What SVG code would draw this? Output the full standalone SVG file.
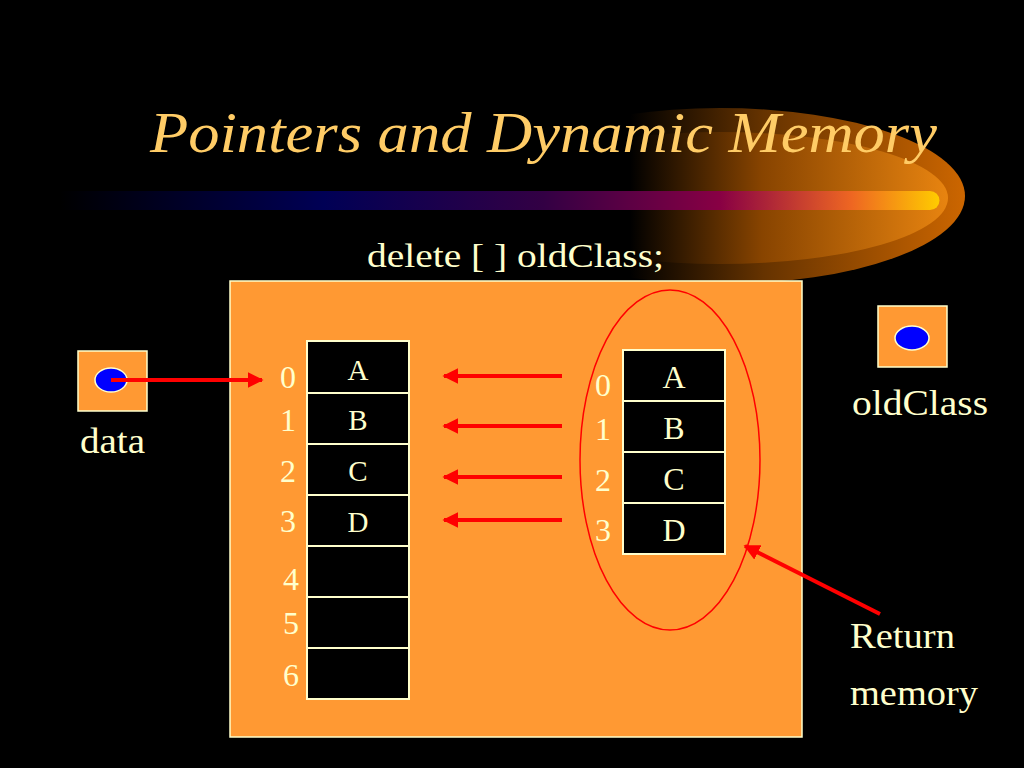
<svg xmlns="http://www.w3.org/2000/svg" width="1024" height="768" viewBox="0 0 1024 768">
<defs>
<style>
.t{font-family:"Liberation Serif","Times New Roman",serif;fill:#FFFFCC}
.cell{fill:#000;stroke:#FFFFCC;stroke-width:2}
.ptr{fill:#FF9933;stroke:#FFFFCC;stroke-width:1.5}
.dot{fill:#0000FF;stroke:#FFFFCC;stroke-width:1.5}
.arr{stroke:#FF0000;stroke-width:4;fill:none}
</style>
<marker id="ah" viewBox="0 0 10 10" refX="9" refY="5" markerWidth="4" markerHeight="4" orient="auto" markerUnits="strokeWidth">
<path d="M0,0 L10,5 L0,10 Z" fill="#FF0000"/>
</marker>
<linearGradient id="bar" x1="0" y1="0" x2="1" y2="0">
<stop offset="0" stop-color="#000000"/>
<stop offset="0.3" stop-color="#000055"/>
<stop offset="0.55" stop-color="#330044"/>
<stop offset="0.75" stop-color="#880044"/>
<stop offset="0.9" stop-color="#EE6622"/>
<stop offset="1" stop-color="#FFCC00"/>
</linearGradient>
<linearGradient id="glow" x1="630" y1="0" x2="965" y2="0" gradientUnits="userSpaceOnUse">
<stop offset="0" stop-color="#000000"/>
<stop offset="0.4" stop-color="#663300"/>
<stop offset="1" stop-color="#CC6600"/>
</linearGradient>
<linearGradient id="glow2" x1="630" y1="0" x2="960" y2="0" gradientUnits="userSpaceOnUse">
<stop offset="0" stop-color="#000000"/>
<stop offset="0.4" stop-color="#884400"/>
<stop offset="1" stop-color="#EE8811"/>
</linearGradient>
<clipPath id="gc"><rect x="630" y="90" width="400" height="200"/></clipPath>
</defs>
<rect width="1024" height="768" fill="#000"/>
<g id="decor">
<g clip-path="url(#gc)">
<ellipse cx="720" cy="196" rx="245" ry="88" fill="url(#glow)"/>
<ellipse cx="720" cy="198" rx="228" ry="66" fill="url(#glow2)"/>
<ellipse cx="720" cy="200" rx="215" ry="42" fill="url(#glow2)" opacity="0.8"/>
</g>
<path d="M60,191 H930 A9.5,9.5 0 0 1 930,210 H60 Z" fill="url(#bar)"/>
</g>
<text class="t" x="150" y="152" font-size="58" font-style="italic" style="fill:#FFCC66" textLength="787" lengthAdjust="spacingAndGlyphs">Pointers and Dynamic Memory</text>
<text class="t" x="367" y="267" font-size="33" textLength="297" lengthAdjust="spacingAndGlyphs">delete [ ] oldClass;</text>
<rect x="230" y="281" width="572" height="456" fill="#FF9933" stroke="#FFFFCC" stroke-width="1.5"/>
<g id="data">
<rect class="ptr" x="78" y="351" width="69" height="60"/>
<ellipse class="dot" cx="111" cy="380" rx="16" ry="12"/>
<text class="t" x="80" y="453" font-size="35" textLength="65" lengthAdjust="spacingAndGlyphs">data</text>
</g>
<g id="oldClass">
<rect class="ptr" x="878" y="306" width="69" height="61"/>
<ellipse class="dot" cx="912" cy="338" rx="17" ry="12"/>
<text class="t" x="852" y="415" font-size="35" textLength="136" lengthAdjust="spacingAndGlyphs">oldClass</text>
</g>
<g id="newArray">
<rect class="cell" x="307" y="341" width="102" height="52"/>
<rect class="cell" x="307" y="393" width="102" height="51"/>
<rect class="cell" x="307" y="444" width="102" height="51"/>
<rect class="cell" x="307" y="495" width="102" height="51"/>
<rect class="cell" x="307" y="546" width="102" height="51"/>
<rect class="cell" x="307" y="597" width="102" height="51"/>
<rect class="cell" x="307" y="648" width="102" height="51"/>
<g class="t" font-size="29" text-anchor="middle">
<text x="358" y="380">A</text>
<text x="358" y="430">B</text>
<text x="358" y="481">C</text>
<text x="358" y="532">D</text>
</g>
<g class="t" font-size="32" text-anchor="middle">
<text x="288" y="388">0</text>
<text x="288" y="431">1</text>
<text x="288" y="482">2</text>
<text x="288" y="532">3</text>
<text x="291" y="590">4</text>
<text x="291" y="634">5</text>
<text x="291" y="686">6</text>
</g>
</g>
<g id="oldArray">
<ellipse cx="670" cy="460" rx="90" ry="170" fill="none" stroke="#FF0000" stroke-width="1.5"/>
<rect class="cell" x="623" y="350" width="102" height="51"/>
<rect class="cell" x="623" y="401" width="102" height="51"/>
<rect class="cell" x="623" y="452" width="102" height="51"/>
<rect class="cell" x="623" y="503" width="102" height="51"/>
<g class="t" font-size="32" text-anchor="middle">
<text x="674" y="388">A</text>
<text x="674" y="439">B</text>
<text x="674" y="490">C</text>
<text x="674" y="541">D</text>
</g>
<g class="t" font-size="32" text-anchor="middle">
<text x="603" y="396">0</text>
<text x="603" y="440">1</text>
<text x="603" y="491">2</text>
<text x="603" y="541">3</text>
</g>
</g>
<g id="returnLabel">
<text class="t" x="850" y="648" font-size="36" textLength="105" lengthAdjust="spacingAndGlyphs">Return</text>
<text class="t" x="850" y="705" font-size="36" textLength="128" lengthAdjust="spacingAndGlyphs">memory</text>
</g>
<g id="connectors">
<line class="arr" x1="111" y1="380" x2="262" y2="380" marker-end="url(#ah)"/>
<line class="arr" x1="562" y1="376" x2="444" y2="376" marker-end="url(#ah)"/>
<line class="arr" x1="562" y1="426" x2="444" y2="426" marker-end="url(#ah)"/>
<line class="arr" x1="562" y1="477" x2="444" y2="477" marker-end="url(#ah)"/>
<line class="arr" x1="562" y1="520" x2="444" y2="520" marker-end="url(#ah)"/>
<line class="arr" x1="880" y1="614" x2="745" y2="546" marker-end="url(#ah)"/>
</g>
</svg>
